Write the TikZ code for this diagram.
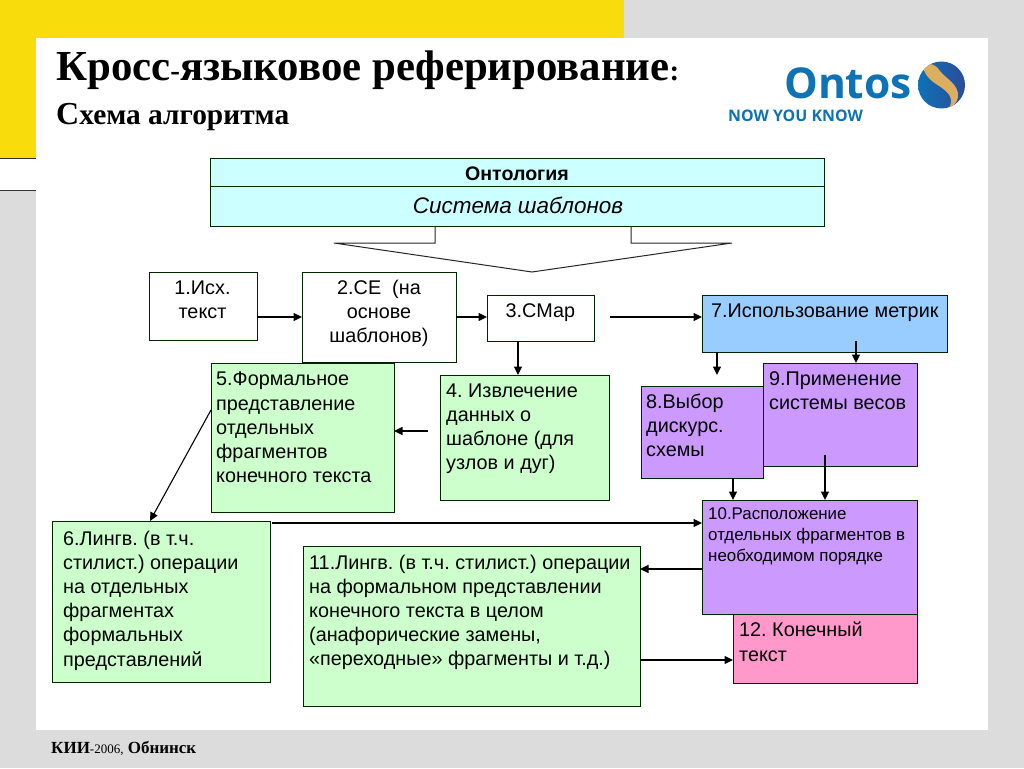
\documentclass[tikz,border=0pt]{standalone}
\usepackage{fontspec}
\setmainfont{Liberation Sans}
\newfontfamily\ttlfont{Liberation Serif}
\newfontfamily\logofont{Open Sans}
\usetikzlibrary{arrows.meta,calc}
\definecolor{bggray}{HTML}{DCDCDC}
\definecolor{yel}{HTML}{F8DC0C}
\definecolor{cyanb}{HTML}{CCFFFF}
\definecolor{blueb}{HTML}{99CCFF}
\definecolor{lilac}{HTML}{CC99FF}
\definecolor{greenb}{HTML}{CCFFCC}
\definecolor{pinkb}{HTML}{FF99CC}
\definecolor{logob}{HTML}{0F72B5}
\definecolor{sphd}{HTML}{2B4C9B}
\definecolor{gold}{HTML}{DDAE5F}
\tikzset{
  bx/.style={draw=black!85!green,line width=1pt,anchor=north west,inner sep=0pt,outer sep=0pt},
  txt/.style={anchor=north west,align=left,inner sep=0pt,font=\fontsize{19.8}{24.1}\selectfont},
  arr/.style={line width=1.1pt,black,-{Triangle[length=8.5pt,width=8pt]}},
  ln/.style={line width=1pt,black!85}
}
\frenchspacing
% name, x1, y1, x2, y2, fill
\newcommand\bxn[6]{\node[bx,fill=#6,minimum width=#4pt-#2pt,minimum height=#5pt-#3pt] (#1) at (#2,#3) {};}
\begin{document}
\begin{tikzpicture}[x=1pt,y=-1pt]
\useasboundingbox (0,0) rectangle (1024,768);
\fill[bggray] (0,0) rectangle (1024,768);
\fill[yel] (0,0) rectangle (624,38);
\fill[yel] (0,38) rectangle (36,158);
\fill[white] (0,158) rectangle (36,190);
\draw[line width=0.8pt,black!80] (0,158) -- (36,158);
\draw[line width=0.8pt,black!80] (0,190) -- (36,190);
\fill[white] (36,38) rectangle (988,730);
% titles
\node[anchor=base west,inner sep=0pt,font=\ttlfont\bfseries\fontsize{42.8}{44}\selectfont] (title) at (56,80) {Кросс{\fontsize{29}{29}\selectfont-}языковое реферирование{\fontsize{29}{29}\selectfont:}};
\node[anchor=base west,inner sep=0pt,font=\ttlfont\bfseries\fontsize{29.4}{30}\selectfont] (subtitle) at (56,124) {{\fontsize{32}{30}\selectfont С}хема алгоритма};
\node[anchor=base west,inner sep=0pt,font=\ttlfont\bfseries\fontsize{17}{18}\selectfont] (foot) at (51,753) {КИИ{\mdseries\fontsize{13}{16}\selectfont-2006,} Обнинск};
% logo
\node[anchor=base west,inner sep=0pt,text=logob,font=\logofont\bfseries\fontsize{42.5}{44}\selectfont] (ontos) at (784,98) {Ontos};
\node[anchor=base west,inner sep=0pt,text=logob,font=\logofont\bfseries\fontsize{15.9}{16}\selectfont] (now) at (728,121.500) {NOW YOU KNOW};
\begin{scope}
\clip (941.5,85) circle (23.5);
\shade[left color=logob,right color=sphd] (918,61) rectangle (965,109);
\fill[gold] (923,66) .. controls (930,62) and (935,64) .. (940,71)
  .. controls (946,79) and (959,84) .. (958,97)
  .. controls (957,103) and (953,106) .. (949,108)
  .. controls (955,98) and (947,91) .. (939,86)
  .. controls (931,81) and (924,75) .. (923,66) -- cycle;
\end{scope}
% ontology
\bxn{onta}{210}{158}{824}{186}{cyanb}
\bxn{ontb}{210}{186}{824}{226}{cyanb}
\node[inner sep=0pt,font=\bfseries\fontsize{19.6}{22}\selectfont] (ontat) at (517,173.500) {Онтология};
\node[inner sep=0pt,font=\itshape\fontsize{22.5}{24}\selectfont] (ontbt) at (518,205) {Система шаблонов};
\coordinate (tipl) at (435,226);
\coordinate (tipr) at (631,226);
\draw[ln] (tipl |- ontb.south) -- (435,243) -- (334,243) -- (532,272) -- (732,243) -- (631,243) -- (tipr |- ontb.south);
% boxes
\bxn{n1}{149}{272}{257}{340}{white}
\bxn{n2}{302}{272}{456}{362}{white}
\bxn{n3}{487}{295}{594}{341}{white}
\bxn{n7}{702}{295}{947}{352}{blueb}
\bxn{n9}{763}{363}{917}{466}{lilac}
\bxn{n8}{641}{386}{763}{478}{lilac}
\bxn{n5}{211}{363}{394}{512}{greenb}
\bxn{n4}{440}{375}{609}{500}{greenb}
\bxn{n6}{52}{521}{270}{682}{greenb}
\bxn{n11}{303}{546}{640}{706}{greenb}
\bxn{n12}{733}{614}{917}{683}{pinkb}
\bxn{n10}{702}{500}{917}{614}{lilac}
% texts
\node[inner sep=0pt,align=center,font=\fontsize{19.8}{24.1}\selectfont] (t1) at (202.500,299.500) {1.Исх.\\текст};
\node[inner sep=0pt,align=center,font=\fontsize{19.8}{24.1}\selectfont] (t2) at (379,313) {2.СЕ\ \ (на\\основе\\шаблонов)};
\node[txt] (t3) at (505.500,303) {3.СМар};
\node[txt] (t7) at (711,303.500) {7.Использование метрик};
\node[txt] (t9) at (769,371) {9.Применение\\системы весов};
\node[txt] (t8) at (646,394) {8.Выбор\\дискурс.\\схемы};
\node[txt] (t5) at (216,372) {5.Формальное\\представление\\отдельных\\фрагментов\\конечного текста};
\node[txt] (t4) at (446,383.500) {4. Извлечение\\данных о\\шаблоне (для\\узлов и дуг)};
\node[txt] (t6) at (63,531) {6.Лингв. (в т.ч.\\стилист.) операции\\на отдельных\\фрагментах\\формальных\\представлений};
\node[txt] (t11) at (309,554.500) {11.Лингв. (в т.ч. стилист.) операции\\на формальном представлении\\конечного текста в целом\\(анафорические замены,\\«переходные» фрагменты и т.д.)};
\node[txt,font=\fontsize{16.9}{21}\selectfont] (t10) at (708,507.500) {10.Расположение\\отдельных фрагментов в\\необходимом порядке};
\node[txt] (t12) at (739,622) {12. Конечный\\текст};
% free-end coordinates
\coordinate (c12) at (257,317);
\coordinate (c37) at (610,317);
\coordinate (c34) at (518,358);
\coordinate (c78) at (717,375);
\coordinate (c79) at (856,341);
\coordinate (c910) at (825,455);
\coordinate (c810) at (733,490);
\coordinate (c45) at (428,431);
\coordinate (c56) at (211,410);
\coordinate (c65) at (150,521);
\coordinate (c610) at (272,523);
\coordinate (c1011) at (702,569);
\coordinate (c1112) at (640,660);
% connectors
\draw[arr] (n1.east |- c12) -- (n2.west |- c12);
\draw[arr] (n2.east) -- (n2.east -| n3.west);
\draw[arr] (c37) -- (n7.west |- c37);
\draw[arr] (c34 |- n3.south) -- (c34 |- n4.north);
\draw[arr] (c78 |- n7.south) -- (c78);
\draw[arr] (c79) -- (c79 |- n9.north);
\draw[arr] (c910) -- (c910 |- n10.north);
\draw[arr] (c810 |- n8.south) -- (c810 |- n10.north);
\draw[arr] (c45) -- (c45 -| n5.east);
\draw[arr] (c56) -- (c65);
\draw[arr] (c610) -- (n10.west |- c610);
\draw[arr] (n10.west |- c1011) -- (n11.east |- c1011);
\draw[arr] (c1112) -- (n12.west |- c1112);
\end{tikzpicture}
\end{document}
